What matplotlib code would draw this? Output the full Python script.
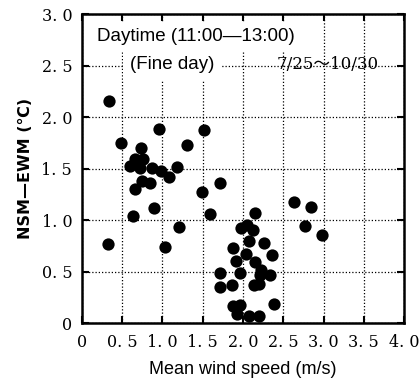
import matplotlib.pyplot as plt
import numpy as np

# mean wind speed (m/s) and NSM-EWM difference (deg C), fine days 11:00-13:00
wind = [0.34, 0.96, 1.52, 0.49, 0.73, 1.30, 0.76, 0.66, 0.60, 0.72,
        0.87, 0.98, 1.18, 1.08, 0.75, 0.84, 0.66, 1.49, 1.72, 0.89,
        0.64, 1.59, 1.20, 0.33, 1.03,
        2.15, 2.63, 2.84, 2.77, 2.98, 1.97, 2.05, 2.13, 2.07, 2.26,
        1.87, 2.04, 2.36, 1.91, 2.15, 2.23, 1.71, 1.96, 2.21, 2.34,
        1.71, 1.86, 2.14, 2.20, 2.38, 1.87, 1.96, 1.92, 2.07, 2.20]
diff = [2.16, 1.88, 1.87, 1.75, 1.70, 1.73, 1.59, 1.59, 1.53, 1.51,
        1.51, 1.48, 1.52, 1.42, 1.38, 1.36, 1.30, 1.27, 1.36, 1.12,
        1.04, 1.06, 0.93, 0.77, 0.74,
        1.07, 1.18, 1.13, 0.94, 0.86, 0.92, 0.95, 0.90, 0.80, 0.78,
        0.73, 0.67, 0.66, 0.60, 0.59, 0.52, 0.49, 0.49, 0.47, 0.47,
        0.35, 0.37, 0.37, 0.38, 0.19, 0.17, 0.18, 0.09, 0.07, 0.07]

xticks = [0, 0.5, 1.0, 1.5, 2.0, 2.5, 3.0, 3.5, 4.0]
yticks = [0, 0.5, 1.0, 1.5, 2.0, 2.5, 3.0]

def tick_text(v):
    if v == 0:
        return "0"
    s = "%.1f" % v
    return s.replace(".", ". ")

fig = plt.figure(figsize=(4.2, 3.81), dpi=100)
ax = fig.add_axes([0.195, 0.152, 0.767, 0.811])

ax.scatter(wind, diff, s=78, color="black", zorder=3, linewidths=0)

ax.set_xlim(0, 4.0)
ax.set_ylim(0, 3.0)
ax.set_xticks(xticks)
ax.set_yticks(yticks)
tick_font = dict(family="DejaVu Serif", fontsize=11.5)
ax.set_xticklabels([tick_text(v) for v in xticks], **tick_font)
ax.set_yticklabels([tick_text(v) for v in yticks], **tick_font)
ax.tick_params(axis="x", direction="in", length=5, width=1.5, top=True, pad=8)
ax.tick_params(axis="y", direction="in", length=5, width=1.5, right=True, pad=7)

ax.grid(True, linestyle=(0, (1, 1.6)), color="black", linewidth=0.9, zorder=0)
for sp in ax.spines.values():
    sp.set_linewidth(1.8)

ax.set_xlabel("Mean wind speed (m/s)", family="Liberation Sans", fontsize=13, labelpad=7)
ax.set_ylabel("NSM—EWM (℃)", fontsize=11.5, fontweight="bold", labelpad=6)

ax.text(0.19, 2.78, "Daytime (11:00—13:00)", family="Liberation Sans", fontsize=13.5,
        va="center", ha="left", zorder=2,
        bbox=dict(facecolor="white", edgecolor="none", pad=4))
ax.text(0.60, 2.51, "(Fine day)", family="Liberation Sans", fontsize=13.5,
        va="center", ha="left", zorder=2,
        bbox=dict(facecolor="white", edgecolor="none", pad=5))
ax.text(2.42, 2.51, "7/25～10/30", fontsize=12,
        va="center", ha="left",
        family=["DejaVu Serif", "Noto Sans CJK JP"], zorder=2)

plt.savefig("out.png", dpi=100)
